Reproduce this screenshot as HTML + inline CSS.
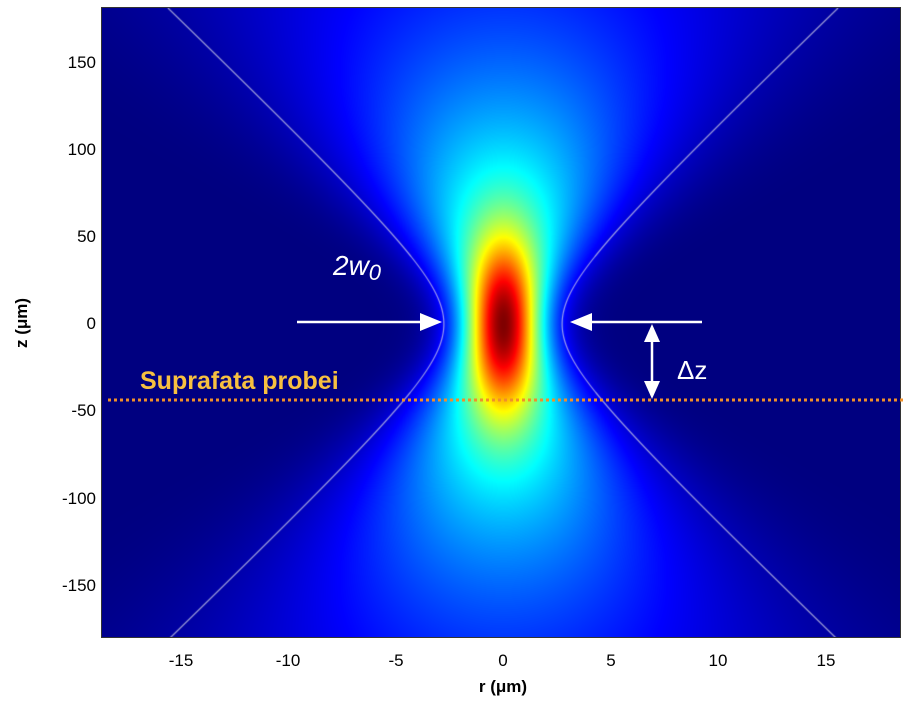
<!DOCTYPE html>
<html><head><meta charset="utf-8"><style>
html,body{margin:0;padding:0;background:#fff;width:909px;height:702px;overflow:hidden}
#c{position:absolute;left:102px;top:8px}
.t{position:absolute;font-family:"Liberation Sans",sans-serif;font-size:17px;color:#000}
.yl{right:813px;width:60px;text-align:right}
.xl{width:60px;text-align:center}
</style></head><body>
<canvas id="c" width="799" height="630"></canvas>
<div style="position:absolute;left:101px;top:7px;width:800px;height:631px;border:1px solid #333;box-sizing:border-box;pointer-events:none"></div>
<svg style="position:absolute;left:0;top:0" width="909" height="702">
<line x1="297" y1="322" x2="425" y2="322" stroke="#fff" stroke-width="2.5"/>
<path d="M442,322 L420,313 L420,331 z" fill="#fff"/>
<line x1="702" y1="322" x2="588" y2="322" stroke="#fff" stroke-width="2.5"/>
<path d="M570,322 L592,313 L592,331 z" fill="#fff"/>
<line x1="652" y1="335" x2="652" y2="388" stroke="#fff" stroke-width="2.5"/>
<path d="M652,324 L644,342 L660,342 z" fill="#fff"/>
<path d="M652,399 L644,381 L660,381 z" fill="#fff"/>
<line x1="108" y1="400" x2="905" y2="400" stroke="#f0902a" stroke-width="3" stroke-dasharray="3,3"/>
</svg>
<div style="position:absolute;left:333px;top:250px;color:#fff;font-family:'Liberation Sans',sans-serif;font-style:italic;font-size:28px">2w<span style="font-size:22px;position:relative;top:5px">0</span></div>
<div style="position:absolute;left:677px;top:355px;color:#fff;font-family:'Liberation Sans',sans-serif;font-size:26px">Δz</div>
<div style="position:absolute;left:140px;top:367px;color:#f7c040;font-family:'Liberation Sans',sans-serif;font-weight:bold;font-size:25px">Suprafata probei</div>
<div class="t yl" style="top:53px">150</div>
<div class="t yl" style="top:140px">100</div>
<div class="t yl" style="top:227px">50</div>
<div class="t yl" style="top:314px">0</div>
<div class="t yl" style="top:401px">-50</div>
<div class="t yl" style="top:489px">-100</div>
<div class="t yl" style="top:576px">-150</div>
<div class="t xl" style="left:151px;top:651px">-15</div>
<div class="t xl" style="left:258px;top:651px">-10</div>
<div class="t xl" style="left:366px;top:651px">-5</div>
<div class="t xl" style="left:473px;top:651px">0</div>
<div class="t xl" style="left:581px;top:651px">5</div>
<div class="t xl" style="left:688px;top:651px">10</div>
<div class="t xl" style="left:796px;top:651px">15</div>
<div class="t" style="left:473px;top:677px;width:60px;text-align:center;font-weight:bold">r (μm)</div>
<div class="t" style="left:-8px;top:313px;width:60px;text-align:center;font-weight:bold;transform:rotate(-90deg)">z (μm)</div>
<script>
(function(){
var c=document.getElementById('c'),x=c.getContext('2d'),W=799,H=630;
var im=x.createImageData(W,H),d=im.data;
function jet(v){v=Math.max(0,Math.min(1,v));
 function f(t){return Math.max(0,Math.min(1,1.5-Math.abs(t)));}
 return [f(4*v-3),f(4*v-2),f(4*v-1)];}
for(var j=0;j<H;j++){
 var py=j+8, z=(324-py)/1.743;
 var Ac=0.45*Math.exp(-(z/48)*(z/48));
 var Ab=0.55/(1+(z/125)*(z/125));
 var wb=3.2*Math.sqrt(1+(z/35)*(z/35));
 for(var i=0;i<W;i++){
  var px=i+102, r=(px-503)/21.5;
  var v=Ac*Math.exp(-2*r*r/4.84)+Ab*Math.exp(-2*r*r/(wb*wb));
  var col=jet(v), k=4*(j*W+i);
  d[k]=col[0]*255;d[k+1]=col[1]*255;d[k+2]=col[2]*255;d[k+3]=255;
 }}
x.putImageData(im,0,0);
x.strokeStyle='rgba(200,200,230,0.75)';x.lineWidth=1.2;
[1,-1].forEach(function(s){x.beginPath();
 for(var j=0;j<=H;j++){var z=(324-(j+8))/1.743;var r=s*2.75*Math.sqrt(1+(z/32.5)*(z/32.5));
  var px=503+r*21.5-102; if(j==0)x.moveTo(px,j);else x.lineTo(px,j);}
 x.stroke();});
})();
</script>
</body></html>
